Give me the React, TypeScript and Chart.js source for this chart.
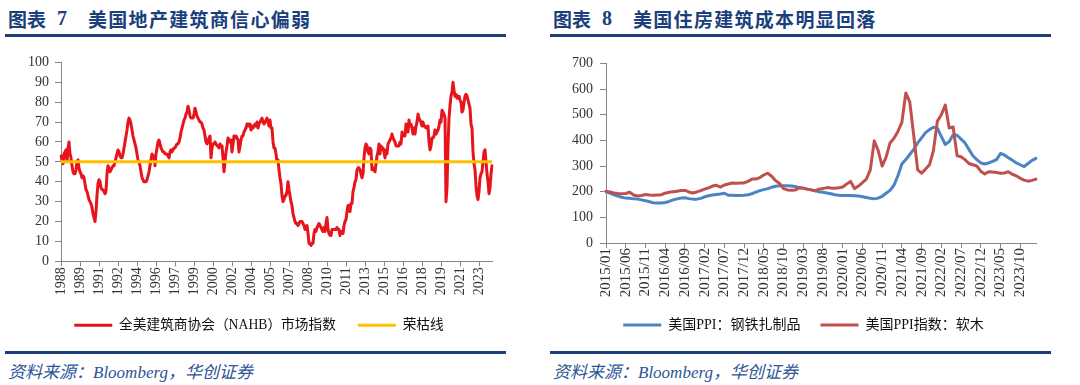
import React, { useEffect, useRef } from "react";
import { Chart, registerables } from "chart.js";

Chart.register(...registerables);

// ---------------- 图表 7 : NAHB 市场指数 (monthly, starting 1988/03) ----------------
const nahbStart = { year: 1988, month: 3 };
const nahbIndex: number[] = [
  // 1988 (Mar-Dec)
  53, 51, 49, 54, 55, 56, 50, 57, 60, 54,
  // 1989
  52, 48, 45, 44, 44, 46, 50, 51, 47, 45, 44, 42,
  // 1990
  43, 42, 39, 36, 35, 33, 31, 30, 29, 27, 24, 22,
  // 1991
  20, 25, 33, 39, 41, 40, 37, 36, 36, 35, 34, 35,
  // 1992
  44, 48, 47, 45, 46, 47, 48, 48, 50, 52, 54, 56,
  // 1993
  55, 53, 52, 52, 54, 57, 60, 63, 66, 70, 72, 71,
  // 1994
  69, 66, 63, 61, 59, 57, 54, 51, 50, 48, 45, 42,
  // 1995
  41, 40, 40, 40, 41, 43, 45, 48, 51, 54, 53, 52,
  // 1996
  48, 54, 57, 60, 61, 59, 57, 56, 55, 55, 54, 54,
  // 1997
  54, 53, 52, 55, 56, 55, 56, 57, 57, 58, 59, 59,
  // 1998
  60, 62, 65, 67, 69, 71, 72, 74, 75, 78, 76, 73,
  // 1999
  72, 72, 72, 74, 77, 75, 73, 72, 71, 70, 70, 69,
  // 2000
  67, 66, 63, 60, 59, 60, 62, 63, 52, 57, 59, 59,
  // 2001
  60, 59, 58, 58, 57, 59, 58, 58, 52, 45, 50, 55,
  // 2002
  58, 62, 61, 60, 61, 55, 59, 63, 62, 63, 62, 61,
  // 2003
  55, 58, 61, 63, 63, 65, 66, 67, 69, 69, 68, 69,
  // 2004
  66, 68, 67, 68, 69, 68, 70, 67, 69, 70, 71, 72,
  // 2005
  70, 69, 70, 71, 72, 70, 68, 71, 67, 67, 60, 57,
  // 2006
  57, 54, 50, 51, 46, 42, 39, 33, 30, 31, 33, 33,
  // 2007
  35, 40, 36, 33, 30, 28, 24, 22, 20, 19, 19, 18,
  // 2008
  19, 20, 20, 20, 19, 18, 16, 16, 18, 14, 9, 9,
  // 2009
  8, 9, 9, 14, 16, 15, 17, 18, 19, 18, 17, 16,
  // 2010
  15, 17, 15, 19, 22, 16, 14, 13, 13, 16, 16, 16,
  // 2011
  16, 16, 17, 16, 16, 13, 15, 15, 14, 18, 20, 21,
  // 2012
  25, 28, 28, 25, 29, 29, 35, 37, 40, 41, 46, 47,
  // 2013
  47, 46, 44, 42, 44, 52, 57, 59, 58, 55, 54, 57,
  // 2014
  56, 46, 47, 46, 45, 49, 53, 55, 59, 54, 58, 57,
  // 2015
  57, 55, 52, 56, 54, 59, 60, 61, 62, 64, 62, 61,
  // 2016
  60, 58, 58, 58, 58, 60, 59, 65, 63, 63, 63, 69,
  // 2017
  67, 65, 71, 68, 69, 67, 64, 67, 64, 68, 70, 74,
  // 2018
  72, 71, 70, 68, 70, 68, 68, 67, 67, 68, 60, 56,
  // 2019
  58, 62, 62, 63, 66, 64, 65, 66, 68, 71, 70, 76,
  // 2020
  75, 74, 72, 30, 37, 58, 72, 78, 83, 85, 90, 86,
  // 2021
  83, 84, 82, 83, 83, 81, 80, 75, 76, 80, 83, 84,
  // 2022
  83, 81, 79, 77, 69, 67, 55, 49, 46, 38, 33, 31,
  // 2023
  35, 42, 44, 45, 50, 55, 56, 50, 44, 40, 34, 37,
  // 2024 (Jan-Feb)
  44, 48,
];
const boomBustLevel = 50;
const nahbLabelEvery = 19;
const nahbYAxis = { min: 0, max: 100, step: 10 };

// ---------------- 图表 8 : 美国PPI (monthly, starting 2015/01) ----------------
const ppiStart = { year: 2015, month: 1 };
const steelMillPPI: number[] = [
  // 2015
  200, 194, 188, 183, 178, 175, 174, 172, 171, 168, 165, 161,
  // 2016
  157, 156, 156, 158, 162, 168, 172, 175, 176, 173, 171, 171,
  // 2017
  174, 180, 184, 187, 189, 191, 194, 186, 186, 185, 185, 186,
  // 2018
  188, 192, 198, 204, 208, 212, 217, 221, 223, 223, 223, 222,
  // 2019
  220, 216, 213, 210, 207, 204, 200, 198, 195, 192, 188, 186,
  // 2020
  185, 185, 185, 184, 183, 180, 177, 174, 172, 175, 182, 194,
  // 2021
  205, 225, 262, 308, 325, 345, 365, 390, 410, 430, 442, 451,
  // 2022
  448, 415, 384, 395, 422, 420, 405, 390, 365, 340, 325, 312,
  // 2023
  308, 312, 318, 325, 349, 343, 332, 323, 312, 305, 298, 310,
  // 2024
  322, 330,
];
const softwoodLumberPPI: number[] = [
  // 2015
  202, 199, 195, 193, 192, 193, 198, 187, 183, 185, 189, 187,
  // 2016
  186, 187, 188, 194, 198, 200, 202, 205, 205, 199, 195, 199,
  // 2017
  204, 210, 215, 222, 225, 218, 226, 230, 234, 233, 234, 234,
  // 2018
  240, 249, 249, 255, 265, 272, 260, 243, 232, 212, 207, 206,
  // 2019
  207, 215, 214, 210, 207, 203, 210, 212, 216, 214, 213, 215,
  // 2020
  218, 230, 240, 212, 222, 235, 249, 285, 398, 360, 300, 335,
  // 2021
  390, 408, 435, 470, 585, 550, 420, 285, 272, 288, 305, 360,
  // 2022
  475, 500, 538, 448, 452, 340, 336, 325, 310, 305, 300, 280,
  // 2023
  269, 278, 277, 275, 272, 273, 278, 268, 262, 252, 245, 241,
  // 2024
  244, 249,
];
const ppiLabelEvery = 5;
const ppiYAxis = { min: 0, max: 700, step: 100 };

// ---------------- helpers ----------------
function monthLabels(start: { year: number; month: number }, count: number): string[] {
  const out: string[] = [];
  for (let i = 0; i < count; i++) {
    const m0 = start.month - 1 + i;
    const y = start.year + Math.floor(m0 / 12);
    const m = (m0 % 12) + 1;
    out.push(`${y}/${String(m).padStart(2, "0")}`);
  }
  return out;
}

const nahbLabels = monthLabels(nahbStart, nahbIndex.length);
const ppiLabels = monthLabels(ppiStart, steelMillPPI.length);

const NUM_FONT = "'Liberation Serif', 'Times New Roman', serif";
const LEGEND_FONT = "'Liberation Serif', 'Noto Sans CJK SC', serif";
const AXIS_GRAY = "#868686";
const TICK_COLOR = "#333333";
const NAVY = "#1B3F7D";

function legendLabels(chart: any) {
  const items = Chart.defaults.plugins.legend.labels.generateLabels(chart);
  return items.map((it: any) => ({ ...it, fillStyle: it.strokeStyle, lineWidth: 0 }));
}

function baseScales(opts: {
  yMin: number; yMax: number; yStep: number; yWidth: number; xHeight: number;
  every: number; fmt: (s: string) => string; xFont: number; yFont: number;
  yPad: number; xTick: number; xPad: number;
}) {
  return {
    x: {
      type: "category" as const,
      offset: false,
      grid: { display: true, drawOnChartArea: false, drawTicks: true, tickLength: opts.xTick, color: AXIS_GRAY, lineWidth: 1 },
      border: { display: true, color: AXIS_GRAY, width: 1 },
      ticks: {
        autoSkip: false,
        minRotation: 90,
        maxRotation: 90,
        padding: opts.xPad,
        color: TICK_COLOR,
        font: { family: NUM_FONT, size: opts.xFont },
        callback: function (this: any, value: any, index: number) {
          if (index % opts.every !== 0) return null;
          return opts.fmt(this.getLabelForValue(value));
        },
      },
      afterFit: (scale: any) => { scale.height = opts.xHeight; },
    },
    y: {
      min: opts.yMin,
      max: opts.yMax,
      grid: { display: true, drawOnChartArea: false, drawTicks: true, tickLength: 6, color: AXIS_GRAY, lineWidth: 1 },
      border: { display: true, color: AXIS_GRAY, width: 1 },
      ticks: {
        stepSize: opts.yStep,
        padding: opts.yPad,
        color: TICK_COLOR,
        font: { family: NUM_FONT, size: opts.yFont },
      },
      afterFit: (scale: any) => { scale.width = opts.yWidth; },
    },
  };
}

const lineStyle = {
  borderWidth: 3,
  pointRadius: 0,
  tension: 0,
  borderJoinStyle: "round",
  borderCapStyle: "round",
};

function nahbConfig(): any {
  return {
    type: "line",
    data: {
      labels: nahbLabels,
      datasets: [
        {
          label: "全美建筑商协会（NAHB）市场指数",
          data: nahbIndex,
          borderColor: "#E8141C",
          backgroundColor: "#E8141C",
          ...lineStyle,
          order: 1,
        },
        {
          label: "荣枯线",
          data: [
            { x: nahbLabels[0], y: boomBustLevel },
            { x: nahbLabels[nahbLabels.length - 1], y: boomBustLevel },
          ],
          borderColor: "#FFC000",
          backgroundColor: "#FFC000",
          ...lineStyle,
          borderCapStyle: "butt",
          order: 0,
        },
      ],
    },
    options: {
      responsive: false,
      animation: false,
      layout: { padding: { top: 12, left: 26, right: 20, bottom: 0 } },
      plugins: {
        tooltip: { enabled: false },
        legend: {
          position: "bottom",
          labels: {
            boxWidth: 38,
            boxHeight: 3,
            padding: 22,
            color: "#111111",
            font: { family: LEGEND_FONT, size: 13.7 },
            generateLabels: legendLabels,
            sort: (a: any, b: any) => a.datasetIndex - b.datasetIndex,
          },
        },
      },
      scales: baseScales({
        yMin: nahbYAxis.min, yMax: nahbYAxis.max, yStep: nahbYAxis.step,
        yWidth: 35, xHeight: 35, every: nahbLabelEvery,
        fmt: (s) => s.slice(0, 4), xFont: 14, yFont: 14, yPad: 6, xTick: 5, xPad: 1,
      }),
    },
  };
}

function ppiConfig(): any {
  return {
    type: "line",
    data: {
      labels: ppiLabels,
      datasets: [
        {
          label: "美国PPI：钢铁扎制品",
          data: steelMillPPI,
          borderColor: "#4A84C4",
          backgroundColor: "#4A84C4",
          ...lineStyle,
          order: 1,
        },
        {
          label: "美国PPI指数：软木",
          data: softwoodLumberPPI,
          borderColor: "#C0504D",
          backgroundColor: "#C0504D",
          ...lineStyle,
          order: 0,
        },
      ],
    },
    options: {
      responsive: false,
      animation: false,
      layout: { padding: { top: 12, left: 31, right: 20, bottom: 0 } },
      plugins: {
        tooltip: { enabled: false },
        legend: {
          position: "bottom",
          labels: {
            boxWidth: 38,
            boxHeight: 3,
            padding: 20,
            color: "#111111",
            font: { family: LEGEND_FONT, size: 14 },
            generateLabels: legendLabels,
            sort: (a: any, b: any) => a.datasetIndex - b.datasetIndex,
          },
        },
      },
      scales: baseScales({
        yMin: ppiYAxis.min, yMax: ppiYAxis.max, yStep: ppiYAxis.step,
        yWidth: 35, xHeight: 55, every: ppiLabelEvery,
        fmt: (s) => s, xFont: 15, yFont: 14, yPad: 7, xTick: 5, xPad: 0,
      }),
    },
  };
}

function ChartBox({ make, left, top, width, height }: { make: () => any; left: number; top: number; width: number; height: number }) {
  const ref = useRef<HTMLCanvasElement>(null);
  useEffect(() => {
    const chart = new Chart(ref.current as HTMLCanvasElement, make());
    return () => chart.destroy();
  }, []);
  return (
    <canvas
      ref={ref}
      width={width}
      height={height}
      style={{ position: "absolute", left, top, width, height, display: "block" }}
    />
  );
}

const titleFont = "'Noto Sans CJK SC', sans-serif";

function Title({ x, num, text }: { x: number; num: string; text: string }) {
  const common: React.CSSProperties = {
    position: "absolute",
    top: 8,
    fontFamily: titleFont,
    fontWeight: 700,
    fontSize: 19,
    lineHeight: "21px",
    color: NAVY,
    whiteSpace: "nowrap",
  };
  return (
    <>
      <div style={{ ...common, left: x }}>图表</div>
      <div style={{ ...common, left: x + 49, fontFamily: "'Liberation Serif', serif", fontSize: 20 }}>{num}</div>
      <div style={{ ...common, left: x + 80, letterSpacing: "1.3px" }}>{text}</div>
    </>
  );
}

function Rule({ x, y, w }: { x: number; y: number; w: number }) {
  return <div style={{ position: "absolute", left: x, top: y, width: w, height: 3, background: NAVY }} />;
}

function Source({ x }: { x: number }) {
  return (
    <div
      style={{
        position: "absolute",
        left: x,
        top: 363,
        fontFamily: "'Liberation Serif', 'Noto Sans CJK SC', serif",
        fontStyle: "italic",
        fontSize: 17,
        lineHeight: "20px",
        color: "#2D5597",
        whiteSpace: "nowrap",
      }}
    >
      资料来源：Bloomberg，华创证券
    </div>
  );
}

export default function App() {
  return (
    <div style={{ position: "absolute", left: 0, top: 0, width: 1080, height: 385, background: "#ffffff", overflow: "hidden" }}>
      <Title x={8} num="7" text="美国地产建筑商信心偏弱" />
      <Title x={553} num="8" text="美国住房建筑成本明显回落" />
      <Rule x={5} y={34} w={501} />
      <Rule x={550} y={34} w={501} />
      <ChartBox make={nahbConfig} left={0} top={48} width={512} height={294} />
      <ChartBox make={ppiConfig} left={540} top={48} width={516} height={294} />
      <Rule x={5} y={351} w={501} />
      <Rule x={550} y={351} w={501} />
      <Source x={8} />
      <Source x={553} />
    </div>
  );
}
